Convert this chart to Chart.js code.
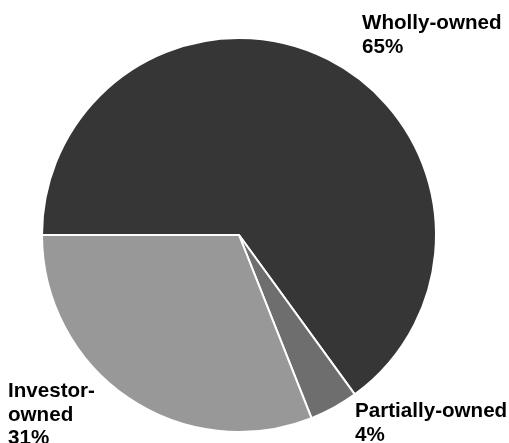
<!DOCTYPE html>
<html>
<head>
<meta charset="utf-8">
<script src="https://cdn.jsdelivr.net/npm/chart.js@4/dist/chart.umd.min.js"></script>
<style>
html,body{margin:0;padding:0;background:#fff;}
#wrap{width:509px;height:443px;position:relative;}
</style>
</head>
<body>
<div id="wrap"><canvas id="c" width="509" height="443"></canvas></div>
<script>
const categories = ["Wholly-owned", "Partially-owned", "Investor-owned"];
const values = [65, 4, 31];
const labelLines = [["Wholly-owned", "65%"], ["Partially-owned", "4%"], ["Investor-", "owned", "31%"]];
const colors = ["#363636", "#6e6e6e", "#989898"];

const labelPos = [
  {x: 362, y: 29},
  {x: 355, y: 417},
  {x: 8, y: 397}
];

const outsideLabels = {
  id: 'outsideLabels',
  afterDraw(chart) {
    const ctx = chart.ctx;
    ctx.save();
    ctx.font = 'bold 20.6px "Liberation Sans", Arial, sans-serif';
    ctx.fillStyle = '#000';
    ctx.textAlign = 'left';
    ctx.textBaseline = 'alphabetic';
    labelLines.forEach((lines, i) => {
      const p = labelPos[i];
      lines.forEach((t, j) => ctx.fillText(t, p.x, p.y + j * 23.5));
    });
    ctx.restore();
  }
};

new Chart(document.getElementById('c'), {
  type: 'pie',
  data: {
    labels: categories,
    datasets: [{
      data: values,
      backgroundColor: colors,
      borderColor: '#ffffff',
      borderWidth: 2
    }]
  },
  options: {
    responsive: false,
    animation: false,
    rotation: -90,
    layout: { padding: { left: 41, right: 72, top: 37, bottom: 10 } },
    plugins: { legend: { display: false }, tooltip: { enabled: false } }
  },
  plugins: [outsideLabels]
});
</script>
</body>
</html>
